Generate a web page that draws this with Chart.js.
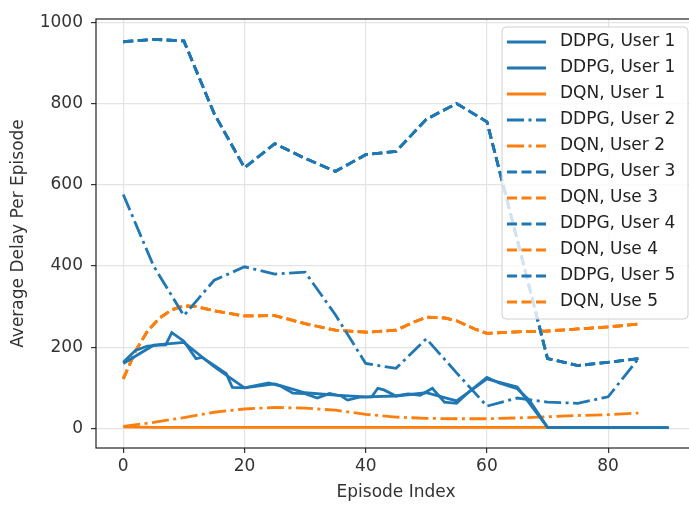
<!DOCTYPE html>
<html lang="en">
<head>
<meta charset="UTF-8">
<title>Average Delay Per Episode</title>
<script src="https://cdn.jsdelivr.net/npm/chart.js"></script>
<style>
  html, body { margin: 0; padding: 0; background: #fff; overflow: hidden; }
  canvas { display: block; }
</style>
</head>
<body>
<canvas id="delayChart" width="700" height="505"></canvas>
<script>
// axis ticks
const xTicks = [0, 20, 40, 60, 80];
const yTicks = [0, 200, 400, 600, 800, 1000];

// episode indices
const eps5 = [0, 5, 10, 15, 20, 25, 30, 35, 40, 45, 50, 55, 60, 65, 70, 75, 80, 85];
const eps5Long = [0, 5, 10, 15, 20, 25, 30, 35, 40, 45, 50, 55, 60, 65, 70, 75, 80, 85, 90];
const epsDdpg1a = [0, 2, 4, 6, 7, 8, 10, 12, 13, 15, 17, 18, 20, 22, 24, 26, 28, 30, 32, 34,
                   36, 37, 39, 41, 42, 43, 45, 47, 49, 51, 53, 55, 57, 60, 62, 65, 67, 70, 75, 80, 85, 90];
const epsDqn3 = [0, 2, 4, 6, 8, 10, 12, 15, 20, 25, 30, 35, 40, 45, 48, 50, 53, 55, 58, 60, 65, 70, 75, 80, 85];

// average delay per episode
const ddpgUser1a = [163, 192, 203, 205, 206, 236, 215, 172, 175, 155, 135, 101, 100, 106, 112, 104, 87, 86, 75, 86,
                    80, 70, 77, 78, 99, 95, 80, 85, 82, 99, 65, 62, 90, 126, 112, 98, 70, 3, 2, 2, 2, 2];
const ddpgUser1b = [160, 205, 212, 152, 100, 110, 88, 82, 78, 80, 88, 68, 122, 102, 3, 2, 2, 2, 2];
const dqnUser1 = [4, 3, 3, 3, 3, 3, 3, 3, 3, 3, 3, 3, 3, 3, 3, 3, 3, 3];
const ddpgUser2 = [576, 400, 278, 365, 398, 380, 385, 280, 160, 148, 221, 137, 55, 75, 65, 62, 78, 172];
const dqnUser2 = [5, 15, 27, 40, 48, 52, 50, 45, 35, 28, 25, 24, 24, 26, 29, 32, 34, 38];
const ddpgUser3 = [952, 958, 954, 775, 642, 701, 665, 633, 674, 682, 761, 800, 755, 465, 172, 155, 163, 172];
const dqnUser3 = [122, 190, 240, 272, 292, 302, 300, 290, 277, 278, 258, 242, 237, 242, 262, 274, 272, 265, 245, 234,
                  238, 240, 245, 250, 257];

const BLUE = '#1f77b4';
const ORANGE = '#ff7f0e';
const DASHED = [10, 4.5];
const DASHDOT = [17, 4.5, 3, 4.5];

const pts = (xs, ys) => xs.map((x, i) => ({ x: x, y: ys[i] }));

function series(label, xs, ys, color, dash) {
  return {
    label: label,
    data: pts(xs, ys),
    borderColor: color,
    backgroundColor: color,
    borderWidth: 2.8,
    borderDash: dash,
    pointRadius: 0,
    tension: 0,
    fill: false
  };
}

const datasets = [
  series('DDPG, User 1', epsDdpg1a, ddpgUser1a, BLUE, []),
  series('DDPG, User 1', eps5Long, ddpgUser1b, BLUE, []),
  series('DQN, User 1', eps5, dqnUser1, ORANGE, []),
  series('DDPG, User 2', eps5, ddpgUser2, BLUE, DASHDOT),
  series('DQN, User 2', eps5, dqnUser2, ORANGE, DASHDOT),
  series('DDPG, User 3', eps5, ddpgUser3, BLUE, DASHED),
  series('DQN, Use 3', epsDqn3, dqnUser3, ORANGE, DASHED),
  series('DDPG, User 4', eps5, ddpgUser3, BLUE, DASHED),
  series('DQN, Use 4', epsDqn3, dqnUser3, ORANGE, DASHED),
  series('DDPG, User 5', eps5, ddpgUser3, BLUE, DASHED),
  series('DQN, Use 5', epsDqn3, dqnUser3, ORANGE, DASHED)
];

// box around the plot area
const frame = {
  id: 'frame',
  afterDraw(chart) {
    const { ctx, chartArea: a } = chart;
    ctx.save();
    ctx.strokeStyle = '#222';
    ctx.lineWidth = 1.2;
    ctx.strokeRect(a.left, a.top, a.right - a.left, a.bottom - a.top);
    ctx.restore();
  }
};

// legend drawn inside the upper right corner of the plot
const innerLegend = {
  id: 'innerLegend',
  afterDraw(chart) {
    const { ctx, chartArea: a } = chart;
    const sets = chart.data.datasets;
    const rowH = 26;
    const w = 186;
    const h = sets.length * rowH + 6;
    const left = a.right - 8 - w;
    const top = a.top + 8;
    ctx.save();
    ctx.beginPath();
    ctx.roundRect(left, top, w, h, 4);
    ctx.fillStyle = 'rgba(255,255,255,0.8)';
    ctx.fill();
    ctx.strokeStyle = '#d0d0d0';
    ctx.lineWidth = 1;
    ctx.stroke();
    ctx.font = '17px "DejaVu Sans"';
    ctx.textBaseline = 'middle';
    sets.forEach((ds, i) => {
      const y = top + 15 + i * rowH;
      ctx.beginPath();
      ctx.setLineDash(ds.borderDash);
      ctx.strokeStyle = ds.borderColor;
      ctx.lineWidth = ds.borderWidth;
      ctx.moveTo(left + 5, y);
      ctx.lineTo(left + 44, y);
      ctx.stroke();
      ctx.setLineDash([]);
      ctx.fillStyle = '#222';
      ctx.fillText(ds.label, left + 58, y);
    });
    ctx.restore();
  }
};

const font = { family: '"DejaVu Sans"', size: 17 };

new Chart(document.getElementById('delayChart'), {
  type: 'line',
  data: { datasets: datasets },
  options: {
    responsive: false,
    animation: false,
    layout: { padding: { top: 19, right: 4, left: 0, bottom: 0 } },
    plugins: { legend: { display: false }, tooltip: { enabled: false } },
    scales: {
      x: {
        type: 'linear',
        min: -4.5,
        max: 94.5,
        afterBuildTicks: s => { s.ticks = xTicks.map(v => ({ value: v })); },
        afterFit: s => { s.height = 57; },
        grid: { color: '#e4e4e4', lineWidth: 1.2, tickLength: 5, tickColor: '#333' },
        border: { display: false },
        ticks: { color: '#333', font: font, padding: 3, maxRotation: 0, callback: v => String(v) },
        title: { display: true, text: 'Episode Index', color: '#333', font: font, padding: { top: 0, bottom: 2 } }
      },
      y: {
        type: 'linear',
        min: -48,
        max: 1008,
        afterBuildTicks: s => { s.ticks = yTicks.map(v => ({ value: v })); },
        afterFit: s => { s.width = 96; },
        grid: { color: '#e4e4e4', lineWidth: 1.2, tickLength: 5, tickColor: '#333' },
        border: { display: false },
        ticks: { color: '#333', font: font, padding: 8, callback: v => String(v) },
        title: { display: true, text: 'Average Delay Per Episode', color: '#333', font: font, padding: { top: 8, bottom: 0 } }
      }
    }
  },
  plugins: [frame, innerLegend]
});
</script>
</body>
</html>
